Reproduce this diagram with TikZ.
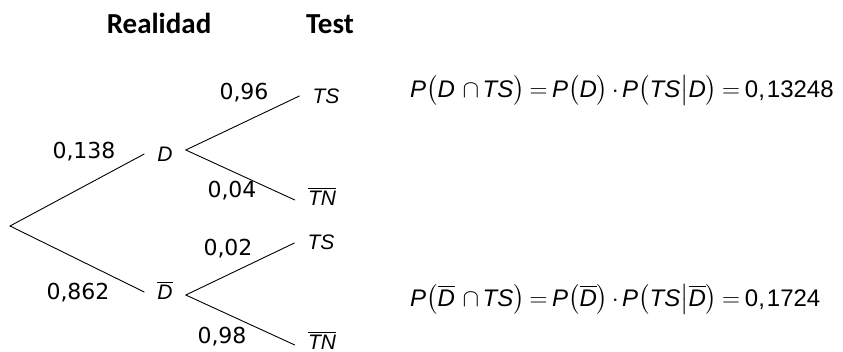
\documentclass[tikz,border=0pt]{standalone}
\usepackage{amsmath}
\usepackage{fontspec}
\setmainfont{Liberation Sans}
\newfontfamily\numfont{DejaVu Sans}
\newfontfamily\headfont{Carlito}
% italic variable inside formulas
\newcommand\mv[1]{\text{\itshape #1}}
% letter with a bar over it, in the current text font
\newcommand\ovl[1]{\ensuremath{\overline{\mbox{#1}}}}
% tighter spacing around relations and operators
\newcommand\tightmath{\thickmuskip=3.5mu\medmuskip=2.5mu}
\begin{document}
\begin{tikzpicture}[x=1pt,y=-1pt,
  head/.style={font=\headfont\bfseries\fontsize{29}{31}\selectfont, anchor=base},
  var/.style={font=\itshape\fontsize{21}{23}\selectfont, inner xsep=13pt, inner ysep=0pt},
  prob/.style={font=\numfont\fontsize{22}{24}\selectfont, inner sep=0pt},
  formula/.style={font=\fontsize{24}{26}\selectfont\tightmath, anchor=base west, inner sep=0pt},
  branch/.style={line width=0.9pt, line cap=round}]
\useasboundingbox (0,0) rectangle (843,351);

% column headers
\node[head] (hreal) at (159,33) {Realidad};
\node[head] (htest) at (330,33) {Test};

% tree nodes
\coordinate (root) at (10,226);
\node[var] (D)   at (165,154) {D};
\node[var] (Db)  at (165,290) {\ovl{D}};
\node[var] (TS1) at (326,96)  {TS};
\node[var] (TN1) at (322,196) {\ovl{TN}};
\node[var] (TS2) at (321,242) {TS};
\node[var] (TN2) at (322,340) {\ovl{TN}};

% branches
\draw[branch] (root) -- (D.west);
\draw[branch] (root) -- (Db.west |- 0,292);
\draw[branch] (D.east |- 0,150) -- (TS1.west);
\draw[branch] (D.east |- 0,150) -- (TN1.west |- 0,200);
\draw[branch] (Db.east |- 0,295) -- (TS2.west |- 0,243);
\draw[branch] (Db.east |- 0,295) -- (TN2.west |- 0,345);

% branch probabilities
\node[prob] (p1) at (84,152)  {0,138};
\node[prob] (p2) at (78,293)  {0,862};
\node[prob] (p3) at (244,93)  {0,96};
\node[prob] (p4) at (232,191) {0,04};
\node[prob] (p5) at (228,249) {0,02};
\node[prob] (p6) at (222,337) {0,98};

% joint probabilities
\node[formula] (f1) at (410,97)
  {$\mv{P}\bigl(\mv{D}\,\cap\mv{TS}\bigr)=\mv{P}\bigl(\mv{D}\bigr)\cdot\mv{P}\bigl(\mv{TS}\big|\mv{D}\bigr)=\text{0,\kern2pt13248}$};
\node[formula] (f2) at (410,306)
  {$\mv{P}\bigl(\mv{\ovl{D}}\,\cap\mv{TS}\bigr)=\mv{P}\bigl(\mv{\ovl{D}}\bigr)\cdot\mv{P}\bigl(\mv{TS}\big|\mv{\ovl{D}}\bigr)=\text{0,\kern2pt1724}$};
\end{tikzpicture}
\end{document}
